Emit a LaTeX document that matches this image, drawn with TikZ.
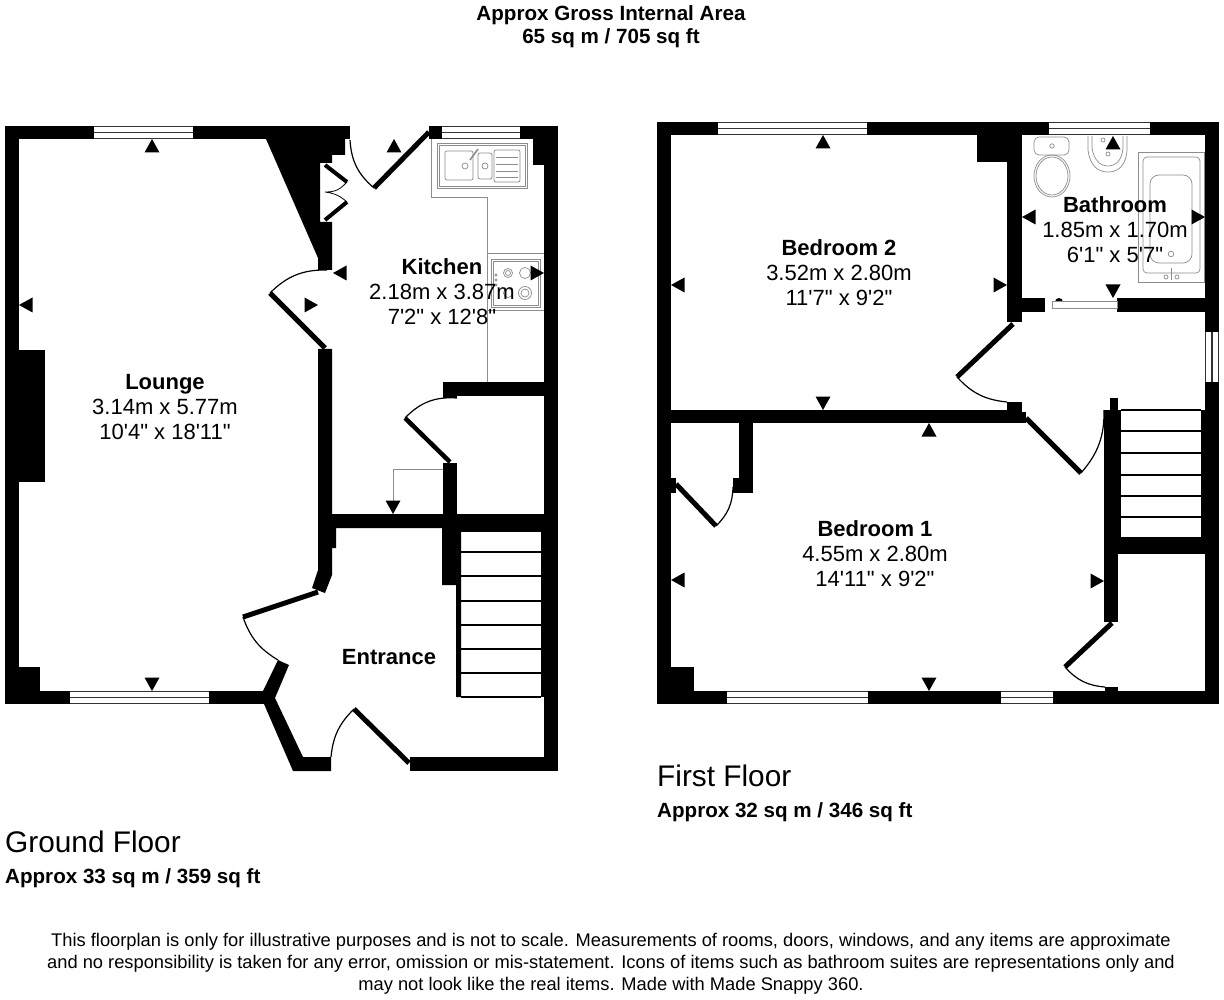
\documentclass[tikz,border=0pt]{standalone}
\usepackage{fontspec}
\setmainfont{Liberation Sans}[Ligatures=TeXOff]
\tikzset{
  wall/.style={fill=black},
  leaf/.style={draw=black,line width=5pt},
  swing/.style={draw=black,line width=1.2pt},
  fixture/.style={draw=black!45,line width=0.7pt},
  glassline/.style={draw=black!80,line width=1.2pt},
  tread/.style={draw=black,line width=1.3pt},
  room/.style={align=center,inner sep=0pt,font=\fontsize{22}{25}\selectfont},
  heading/.style={align=center,inner sep=0pt,font=\fontsize{20.6}{23}\selectfont\bfseries},
  floorname/.style={anchor=west,inner sep=0pt,font=\fontsize{29.8}{34}\selectfont},
  floorarea/.style={anchor=west,inner sep=0pt,font=\fontsize{20.6}{23}\selectfont\bfseries},
  note/.style={align=center,inner sep=0pt,font=\fontsize{18.3}{22}\selectfont},
  marker/.pic={\fill[black] (0,0) -- (-7.5,13.5) -- (7.5,13.5) -- cycle;}
}
\begin{document}
\begin{tikzpicture}[x=1pt,y=-1pt]
  \useasboundingbox[fill=white] (0,0) rectangle (1224,1000);

  \begin{scope}[fixture]
    \draw (431,139) -- (431,197) -- (487,197) -- (487,382);
    \draw (487,253) -- (544,253);
    \draw (487,310) -- (544,310);
    \draw (437,143) rectangle (527,188);
    \draw (439,145) rectangle (525,186);
    \draw[rounded corners=2pt] (445,151) rectangle (473,180);
    \draw[rounded corners=2pt] (478,153) rectangle (492,179);
    \draw[rounded corners=2pt] (494,150) rectangle (520,182);
    \foreach \y in {157,164,171,177} {
      \draw (496,\y) -- (518,\y);
    }
    \draw (465,166) circle (3);
    \draw (485,166) circle (3);
    \draw[line width=1.6pt] (470,160) -- (478,149);
    \draw (491,259) rectangle (540,307);
    \draw (493,261) rectangle (538,305);
    \draw (508,273) circle (4.5);
    \draw (508,273) circle (2.5);
    \draw (525,273) circle (5.5);
    \draw (508,293) circle (4.5);
    \draw (525,293) circle (6.5);
    \draw (525,293) circle (4);
    \foreach \y in {275,280,285} {
      \draw (496,\y) circle (1.2);
    }
    \draw[rounded corners=5pt] (1034,137) rectangle (1069,155);
    \draw (1052,146) circle (2.2);
    \draw (1052,176) ellipse (18 and 21);
    \draw (1052,176) ellipse (16 and 19);
    \draw (1088,136) -- (1088,150) .. controls (1090,166) and (1098,172) .. (1108,172)
      .. controls (1118,172) and (1126,166) .. (1127,150) -- (1127,136);
    \draw (1092,136) -- (1092,148) .. controls (1094,160) and (1100,166) .. (1108,166)
      .. controls (1116,166) and (1122,160) .. (1123,148) -- (1123,136);
    \draw (1108,154) circle (2);
    \draw (1103,140) circle (2);
    \draw (1138,152) rectangle (1204,282);
    \draw[rounded corners=4pt] (1143,157) rectangle (1200,273);
    \draw[rounded corners=9pt] (1150,175) rectangle (1192,263);
    \draw (1171,254) circle (2.8);
    \draw (1166,277) circle (2);
    \draw (1177,277) circle (2);
    \draw (1171,268) -- (1171,280);
  \end{scope}

  \node (lounge) [room] at (165,407) {\textbf{Lounge}\\3.14m x 5.77m\\10'4" x 18'11"};
  \node (kitchen) [room] at (442,292) {\textbf{Kitchen}\\2.18m x 3.87m\\7'2" x 12'8"};
  \node (entrance) [room] at (389,657) {\textbf{Entrance}};
  \node (bedroomtwo) [room] at (839,273) {\textbf{Bedroom 2}\\3.52m x 2.80m\\11'7" x 9'2"};
  \node (bedroomone) [room] at (875,554) {\textbf{Bedroom 1}\\4.55m x 2.80m\\14'11" x 9'2"};
  \node (bathroom) [room] at (1115,230) {\textbf{Bathroom}\\1.85m x 1.70m\\6'1" x 5'7"};

  \begin{scope}
    \fill[wall] (5,126) rectangle (350,139);
    \fill[wall] (5,126) rectangle (19,704);
    \fill[wall] (19,350) rectangle (45,482);
    \fill[wall] (19,667) rectangle (40,691);
    \fill[wall] (5,691) rectangle (264,704);
    \fill[wall] (266,139) -- (318,258) -- (318,270) -- (332,270) -- (332,222) -- (320,222)
      -- (320,163) -- (332,163) -- (332,155) -- (345,155) -- (345,139) -- cycle;
    \fill[wall] (318,349) -- (332,349) -- (332,514) -- (544,514) -- (544,531) -- (461,531)
      -- (461,585) -- (461,697) -- (456,697) -- (456,585) -- (442,585) -- (442,528) -- (336,528)
      -- (336,548) -- (332,548) -- (332,575) -- (325,593) -- (312,588) -- (318,570) -- cycle;
    \fill[wall] (443,463) rectangle (457,514);
    \fill[wall] (429,126) rectangle (558,139);
    \fill[wall] (533,126) rectangle (558,165);
    \fill[wall] (544,126) rectangle (558,771);
    \fill[wall] (541,531) rectangle (558,697);
    \fill[wall] (443,382) rectangle (544,396);
    \fill[wall] (443,396) rectangle (457,398);
    \fill[wall] (410,757) rectangle (558,771);
    \fill[wall] (278,660) -- (289,665) -- (275,698) -- (303,757) -- (331,757) -- (331,771)
      -- (293,771) -- (264,704) -- (263,691) -- cycle;
  \end{scope}

  \begin{scope}
    \fill[wall] (657,122) rectangle (1219,135);
    \fill[wall] (657,122) rectangle (671,704);
    \fill[wall] (657,691) rectangle (1219,704);
    \fill[wall] (1205,122) rectangle (1219,704);
    \fill[wall] (977,135) rectangle (1022,162);
    \fill[wall] (1007,135) rectangle (1022,322);
    \fill[wall] (1022,298) rectangle (1045,312);
    \fill[wall] (1117,298) rectangle (1205,312);
    \fill[wall] (1007,402) rectangle (1022,410);
    \fill[wall] (671,410) rectangle (1022,423);
    \fill[wall] (1022,412) rectangle (1026,423);
    \fill[wall] (739,423) rectangle (753,493);
    \fill[wall] (733,478) rectangle (753,493);
    \fill[wall] (671,478) rectangle (676,493);
    \fill[wall] (671,667) rectangle (694,691);
    \fill[wall] (1110,398) rectangle (1118,410);
    \fill[wall] (1104,410) rectangle (1121,537);
    \fill[wall] (1201,410) rectangle (1219,537);
    \fill[wall] (1104,537) rectangle (1219,554);
    \fill[wall] (1104,537) rectangle (1118,622);
    \fill[wall] (1105,687) rectangle (1118,691);
    \fill (1055,302) arc (180:360:4 and 4) -- cycle;
  \end{scope}

  \foreach \xa/\xb/\ya in {94/193/126,442/520/126,718/867/122,1049/1150/122,70/209/691,727/868/691,1001/1053/691} {
    \fill[white] (\xa,\ya) rectangle (\xb,\ya+13);
    \draw[glassline] (\xa,\ya+0.6) -- (\xb,\ya+0.6);
    \draw[glassline] (\xa,\ya+6.5) -- (\xb,\ya+6.5);
    \draw[glassline] (\xa,\ya+12.4) -- (\xb,\ya+12.4);
  }
  \fill[white] (1205,332) rectangle (1219,382);
  \draw[glassline] (1205.6,332) -- (1205.6,382);
  \draw[glassline] (1212,332) -- (1212,382);
  \draw[glassline] (1218.4,332) -- (1218.4,382);
  \draw[fill=white,draw=black!45,line width=1pt] (1052,302) rectangle (1117,309);

  \foreach \y in {531,552,576,601,625,649,673,697} {
    \draw[tread] (461,\y) -- (541,\y);
  }
  \foreach \y in {410,431,453,475,496,517} {
    \draw[tread] (1121,\y) -- (1201,\y);
  }

  \draw[leaf] (374,188) -- (429,132);
  \draw[swing] (350,140) to[bend right=23] (374,188);
  \draw[leaf] (270,293) -- (325,348);
  \draw[swing] (270,293) to[bend left=23] (327,270);
  \draw[leaf] (243,617) -- (318,592);
  \draw[swing] (243,617) to[bend right=20] (278,660);
  \draw[leaf] (354,709) -- (409,763);
  \draw[swing] (331,757) to[bend left=20] (354,709);
  \draw[leaf,line width=4.5pt] (405,418) -- (450,462);
  \draw[swing] (405,418) to[bend left=25] (457,398);
  \draw[leaf] (957,377) -- (1013,324);
  \draw[swing] (957,377) to[bend right=21] (1007,402);
  \draw[leaf] (1026,418) -- (1081,473);
  \draw[swing] (1081,473) to[bend right=21] (1104,410);
  \draw[leaf] (1065,667) -- (1112,623);
  \draw[swing] (1065,667) to[bend right=22] (1105,687);
  \draw[leaf] (676,484) -- (716,526);
  \draw[swing] (716,526) to[bend right=22] (733,487);
  \draw[leaf,line width=4pt] (325,165) -- (347,182);
  \draw[leaf,line width=4pt] (347,202) -- (325,220);
  \draw[swing,line width=0.8pt] (347,182) .. controls (338,192) and (332,192) .. (325,192)
    .. controls (332,193) and (338,194) .. (347,202);

  \draw[fixture] (393,501) -- (393,469) -- (443,469);
  \foreach \x/\y/\r in {152/139/0,152/691/180,19/305/90,318/305/270,333/273/90,544/273/270,
    394/139/0,393/514/180,823/135/0,823/410/180,671/285/90,1007/285/270,1113/136/0,
    1022/217/90,1205/217/270,1113/298/180,929/423/0,929/691/180,671/580/90,1104/581/270} {
    \pic[rotate=\r] at (\x,\y) {marker};
  }

  \node (grossarea) [heading] at (611,27) {Approx Gross Internal Area\\65 sq m / 705 sq ft};
  \node (groundname) [floorname] at (5,842) {Ground Floor};
  \node (groundarea) [floorarea] at (5,878) {Approx 33 sq m / 359 sq ft};
  \node (firstname) [floorname] at (657,776) {First Floor};
  \node (firstarea) [floorarea] at (657,812) {Approx 32 sq m / 346 sq ft};
  \node (disclaimer) [note] at (611,964) {This floorplan is only for illustrative purposes and is not to scale. Measurements of rooms, doors, windows, and any items are approximate\\and no responsibility is taken for any error, omission or mis-statement. Icons of items such as bathroom suites are representations only and\\may not look like the real items. Made with Made Snappy 360.};
\end{tikzpicture}
\end{document}
